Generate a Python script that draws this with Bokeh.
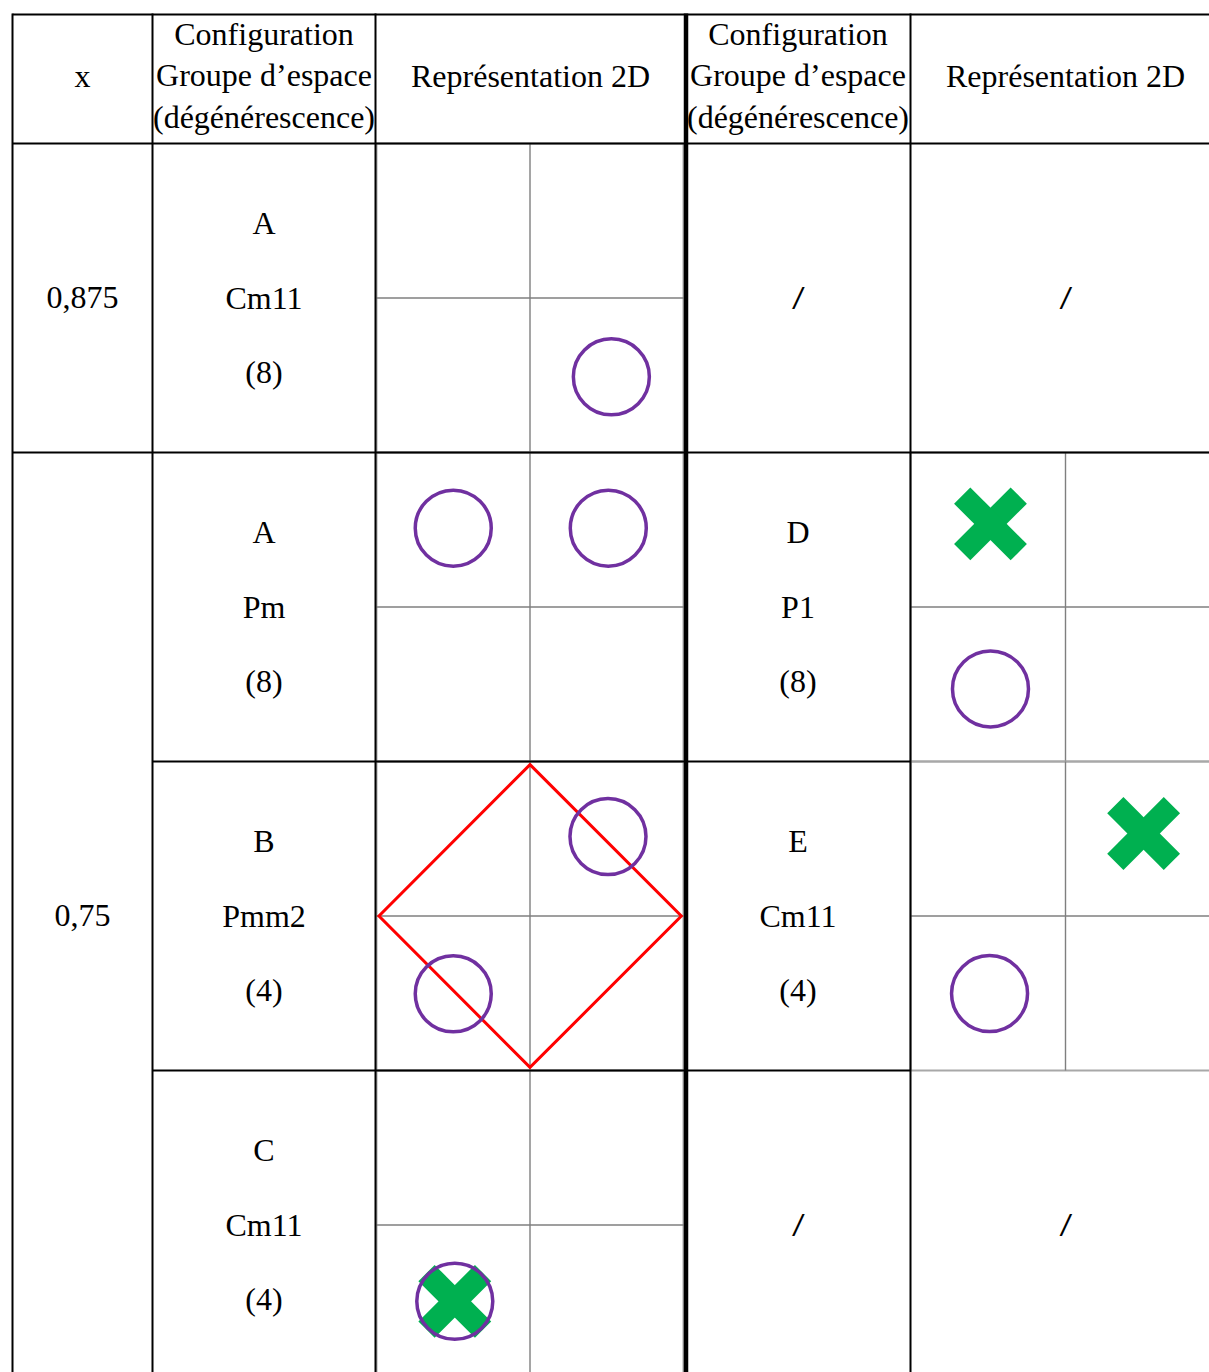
import math
from bokeh.plotting import figure
from bokeh.models import Range1d
from bokeh.core.properties import value
from bokeh.embed import file_html
from bokeh.resources import INLINE

# ---------------- table content (data) ----------------
header_x = "x"
header_config = ["Configuration", "Groupe d’espace", "(dégénérescence)"]
header_repr = "Représentation 2D"
x_values = ["0,875", "0,75"]

left_letters = ["A", "A", "B", "C"]
left_groups = ["Cm11", "Pm", "Pmm2", "Cm11"]
left_degen = ["(8)", "(8)", "(4)", "(4)"]
right_letters = [None, "D", "E", None]
right_groups = [None, "P1", "Cm11", None]
right_degen = [None, "(8)", "(4)", None]
empty_mark = "/"

# 2D representations: fractional positions inside a unit cell (x to the right, y downward)
circle_side = ["L", "L", "L", "L", "L", "L", "R", "R"]
circle_row = [0, 1, 1, 2, 2, 3, 1, 2]
circle_fx = [0.765, 0.250, 0.755, 0.754, 0.250, 0.255, 0.258, 0.255]
circle_fy = [0.755, 0.245, 0.245, 0.243, 0.752, 0.747, 0.765, 0.751]

cross_side = ["L", "R", "R"]
cross_row = [3, 1, 2]
cross_fx = [0.255, 0.258, 0.752]
cross_fy = [0.747, 0.231, 0.233]

diamond_side = "L"
diamond_row = 2
diamond_fx = [0.5, 0.993, 0.5, 0.008]
diamond_fy = [0.010, 0.5, 0.990, 0.5]

panels = [("L", 0), ("L", 1), ("L", 2), ("L", 3), ("R", 1), ("R", 2)]

# ---------------- layout (page pixels) ----------------
W, H = 1209, 1372
OFF = 0
X_RIGHT = OFF + W
Y_BOTTOM = OFF + H
col_x = [12, 152, 375, 685.5, 910]
top_y = 14
head_y = 143
row_tops = [143, 452, 761, 1070]
row_h = 309
cell_x0 = {"L": 376, "R": 910}
cell_w = {"L": 307, "R": 310}
col_center = [82, 263.5, 530, 797.5, 1065]
TXT_SHIFT = -12  # baseline correction of the renderer

SERIF = value("Liberation Serif")
FS = value("32px")

p = figure(width=W, height=H, output_backend="svg", toolbar_location=None,
           x_axis_location=None, y_axis_location=None, min_border=0,
           x_range=Range1d(OFF, X_RIGHT), y_range=Range1d(Y_BOTTOM, OFF),
           tools="")
p.outline_line_color = None
p.grid.visible = False
p.background_fill_color = "white"
p.border_fill_color = "white"

p.extra_x_ranges = {
    s: Range1d((OFF - cell_x0[s]) / cell_w[s], (X_RIGHT - cell_x0[s]) / cell_w[s])
    for s in ("L", "R")
}
p.extra_y_ranges = {
    f"r{i}": Range1d((Y_BOTTOM - t) / row_h, (OFF - t) / row_h)
    for i, t in enumerate(row_tops)
}

# ---- grey frames and inner cross of each 2D panel ----
for s, r in panels:
    kw = dict(x_range_name=s, y_range_name=f"r{r}")
    p.quad(left=[0], right=[1], top=[0], bottom=[1], fill_color=None,
           line_color="#a8a8a8", line_width=2, **kw)
    p.segment(x0=[0.5, 0], y0=[0, 0.5], x1=[0.5, 1], y1=[1, 0.5],
              line_color="#7f7f7f", line_width=1.4, **kw)

# ---- black table rules ----
hx0 = [12, 12, 12, 152, 152]
hx1 = [X_RIGHT, X_RIGHT, X_RIGHT, 910, 910]
hy = [top_y, head_y, row_tops[1], row_tops[2], row_tops[3]]
p.segment(x0=hx0, y0=hy, x1=hx1, y1=hy, line_color="black", line_width=2)
vx = [col_x[0], col_x[1], col_x[2], col_x[4]]
p.segment(x0=vx, y0=[top_y - 1] * 4, x1=vx, y1=[Y_BOTTOM] * 4,
          line_color="black", line_width=2)
p.segment(x0=[col_x[3]], y0=[top_y - 1], x1=[col_x[3]], y1=[Y_BOTTOM],
          line_color="black", line_width=4.5)

# ---- header texts ----
ht, hxs, hys = [], [], []
ht.append(header_x); hxs.append(col_center[0]); hys.append(87 + TXT_SHIFT)
for c in (1, 3):
    for line, yb in zip(header_config, [45, 86.5, 128]):
        ht.append(line); hxs.append(col_center[c]); hys.append(yb + TXT_SHIFT)
for c in (2, 4):
    ht.append(header_repr); hxs.append(col_center[c]); hys.append(87.5 + TXT_SHIFT)
p.text(x=hxs, y=hys, text=ht, text_align="center", text_baseline="alphabetic",
       text_font=SERIF, text_font_size=FS, text_color="black")

# ---- body texts ----
bt, bx, by = [], [], []
merged_bottom = row_tops[3] + row_h
bt.append(x_values[0]); bx.append(col_center[0])
by.append(row_tops[0] + row_h / 2 + 11 + TXT_SHIFT)
bt.append(x_values[1]); bx.append(col_center[0])
by.append((row_tops[1] + merged_bottom) / 2 + 11 + TXT_SHIFT)
offs = [91.5, 166.5, 240]
for i, t in enumerate(row_tops):
    for txt, o in zip([left_letters[i], left_groups[i], left_degen[i]], offs):
        bt.append(txt); bx.append(col_center[1]); by.append(t + o + TXT_SHIFT)
    if right_letters[i] is not None:
        for txt, o in zip([right_letters[i], right_groups[i], right_degen[i]], offs):
            bt.append(txt); bx.append(col_center[3]); by.append(t + o + TXT_SHIFT)
p.text(x=bx, y=by, text=bt, text_align="center", text_baseline="alphabetic",
       text_font=SERIF, text_font_size=FS, text_color="black")

# ---- "/" marks for empty cells ----
st, sx, sy = [], [], []
for i, t in enumerate(row_tops):
    if right_letters[i] is None:
        yc = t + row_h / 2 + 12 + TXT_SHIFT
        for c in (3, 4):
            st.append(empty_mark); sx.append(col_center[c]); sy.append(yc)
p.text(x=sx, y=sy, text=st, text_align="center", text_baseline="alphabetic",
       text_font=value("Liberation Sans"), text_font_style="italic",
       text_font_size=value("30px"), text_color="black")

# ---- 2D markers ----
GREEN = "#00B050"
PURPLE = "#7030A0"
for s, r in panels:
    kw = dict(x_range_name=s, y_range_name=f"r{r}")
    if s == diamond_side and r == diamond_row:
        p.patch(x=diamond_fx, y=diamond_fy, fill_color=None, line_color="#FF0000",
                line_width=3, line_join="miter", **kw)
    cx = [fx for fx, ss, rr in zip(cross_fx, cross_side, cross_row) if ss == s and rr == r]
    cy = [fy for fy, ss, rr in zip(cross_fy, cross_side, cross_row) if ss == s and rr == r]
    if cx:
        for ang in (math.pi / 4, -math.pi / 4):
            p.rect(x=cx, y=cy, width=80, height=23, width_units="screen",
                   height_units="screen", angle=ang, fill_color=GREEN,
                   line_color=None, **kw)
    ox = [fx for fx, ss, rr in zip(circle_fx, circle_side, circle_row) if ss == s and rr == r]
    oy = [fy for fy, ss, rr in zip(circle_fy, circle_side, circle_row) if ss == s and rr == r]
    if ox:
        p.scatter(x=ox, y=oy, marker="circle", size=76, fill_color=None,
                  line_color=PURPLE, line_width=3.5, **kw)

with open("out.html", "w", encoding="utf-8") as f:
    f.write(file_html(p, INLINE))
